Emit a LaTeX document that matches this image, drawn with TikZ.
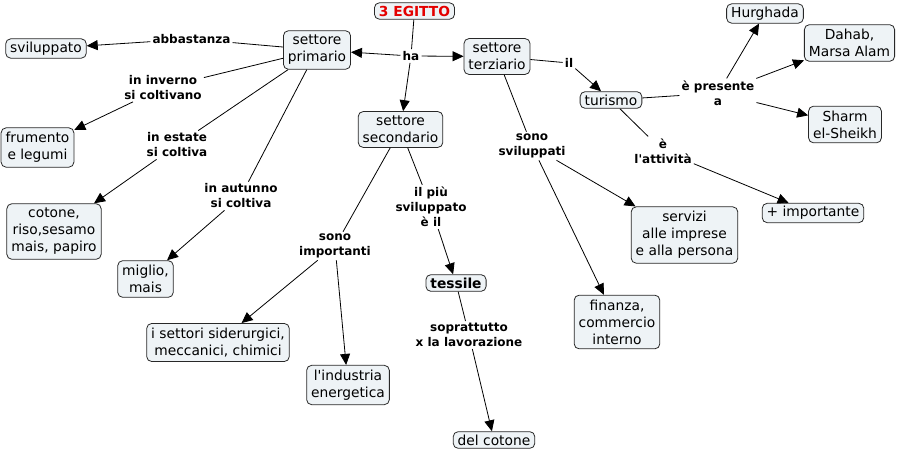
\documentclass[tikz,border=0pt]{standalone}
\usepackage{fontspec}
\setmainfont{DejaVu Sans}[Ligatures=TeXOff]
\usetikzlibrary{arrows.meta}
\definecolor{nodefill}{RGB}{238,243,246}
\definecolor{nodeborder}{RGB}{40,40,40}
\definecolor{titlered}{RGB}{228,0,0}
\tikzset{
  concept/.style={draw=nodeborder, fill=nodefill, rounded corners=5pt, line width=0.8pt,
    align=center, inner xsep=4.5pt, inner ysep=4.5pt, font=\fontsize{13.8}{17}\selectfont},
  linkl/.style={align=center, inner sep=2pt, font=\fontsize{12}{15}\selectfont\bfseries},
  conn/.style={line width=0.8pt, draw=black},
  arr/.style={conn, -{Triangle[length=11pt,width=10pt]}}
}
\begin{document}
\begin{tikzpicture}[x=1pt,y=-1pt]
\useasboundingbox (0,0) rectangle (899,453);
% concepts
\node[concept, font=\fontsize{13.8}{17}\selectfont\bfseries, text=titlered, inner ysep=3pt] (eg) at (414.5,11) {3 EGITTO};
\node[concept] (prim) at (317,50) {settore\\primario};
\node[concept] (terz) at (497,56.5) {settore\\terziario};
\node[concept] (sec) at (400.5,129.5) {settore\\secondario};
\node[concept, inner ysep=3pt] (svil) at (46,48.5) {sviluppato};
\node[concept] (frum) at (37.5,147.5) {frumento\\e legumi};
\node[concept] (coto) at (54,231.5) {cotone,\\riso,sesamo\\mais, papiro};
\node[concept] (migl) at (145.5,279) {miglio,\\mais};
\node[concept] (sett) at (218,342.5) {i settori siderurgici,\\meccanici, chimici};
\node[concept] (ind) at (348,385) {l'industria\\energetica};
\node[concept, font=\fontsize{13.8}{17}\selectfont\bfseries, inner ysep=3pt] (tess) at (456,283) {tessile};
\node[concept, inner ysep=3pt] (delc) at (494,440) {del cotone};
\node[concept] (fin) at (617,322) {finanza,\\commercio\\interno};
\node[concept] (serv) at (684.5,235) {servizi\\alle imprese\\e alla persona};
\node[concept, inner ysep=3pt] (imp) at (813,213) {+ importante};
\node[concept, inner ysep=3pt] (tur) at (611,100) {turismo};
\node[concept, inner ysep=3pt] (hur) at (765,13.5) {Hurghada};
\node[concept] (dah) at (849.5,43) {Dahab,\\Marsa Alam};
\node[concept] (sha) at (845,124.5) {Sharm\\el-Sheikh};
% link labels
\node[linkl] (ha) at (411,56) {ha};
\node[linkl] (abb) at (191.5,39) {abbastanza};
\node[linkl] (inv) at (163,87.5) {in inverno\\si coltivano};
\node[linkl] (est) at (177,145) {in estate\\si coltiva};
\node[linkl] (aut) at (241,196) {in autunno\\si coltiva};
\node[linkl] (sono) at (335,246) {sono\\importanti};
\node[linkl] (piu) at (431,207) {il più\\sviluppato\\è il};
\node[linkl] (sopr) at (469,335) {soprattutto\\x la lavorazione};
\node[linkl] (il) at (569,63) {il};
\node[linkl] (sv) at (532,146) {sono\\sviluppati};
\node[linkl] (pres) at (718,93) {è presente\\a};
\node[linkl] (att) at (663,151) {è\\l'attività};
% connectors
\draw[conn] (eg) -- (ha);
\draw[arr] (ha) -- (prim);
\draw[arr] (ha) -- (terz);
\draw[arr] (ha) -- (sec);
\draw[conn] (prim) -- (abb);
\draw[arr] (abb) -- (svil);
\draw[conn] (prim) -- (inv);
\draw[arr] (inv) -- (frum);
\draw[conn] (prim) -- (est);
\draw[arr] (est) -- (coto);
\draw[conn] (prim) -- (aut);
\draw[arr] (aut) -- (migl);
\draw[conn] (sec) -- (sono);
\draw[arr] (sono) -- (sett);
\draw[arr] (sono) -- (ind);
\draw[conn] (sec) -- (piu);
\draw[arr] (piu) -- (tess);
\draw[conn] (tess) -- (sopr);
\draw[arr] (sopr) -- (delc);
\draw[conn] (terz) -- (il);
\draw[arr] (il) -- (tur);
\draw[conn] (terz) -- (sv);
\draw[arr] (sv) -- (serv);
\draw[arr] (sv) -- (fin);
\draw[conn] (tur) -- (pres);
\draw[arr] (pres) -- (hur);
\draw[arr] (pres) -- (dah);
\draw[arr] (pres) -- (sha);
\draw[conn] (tur) -- (att);
\draw[arr] (att) -- (imp);
\end{tikzpicture}
\end{document}
